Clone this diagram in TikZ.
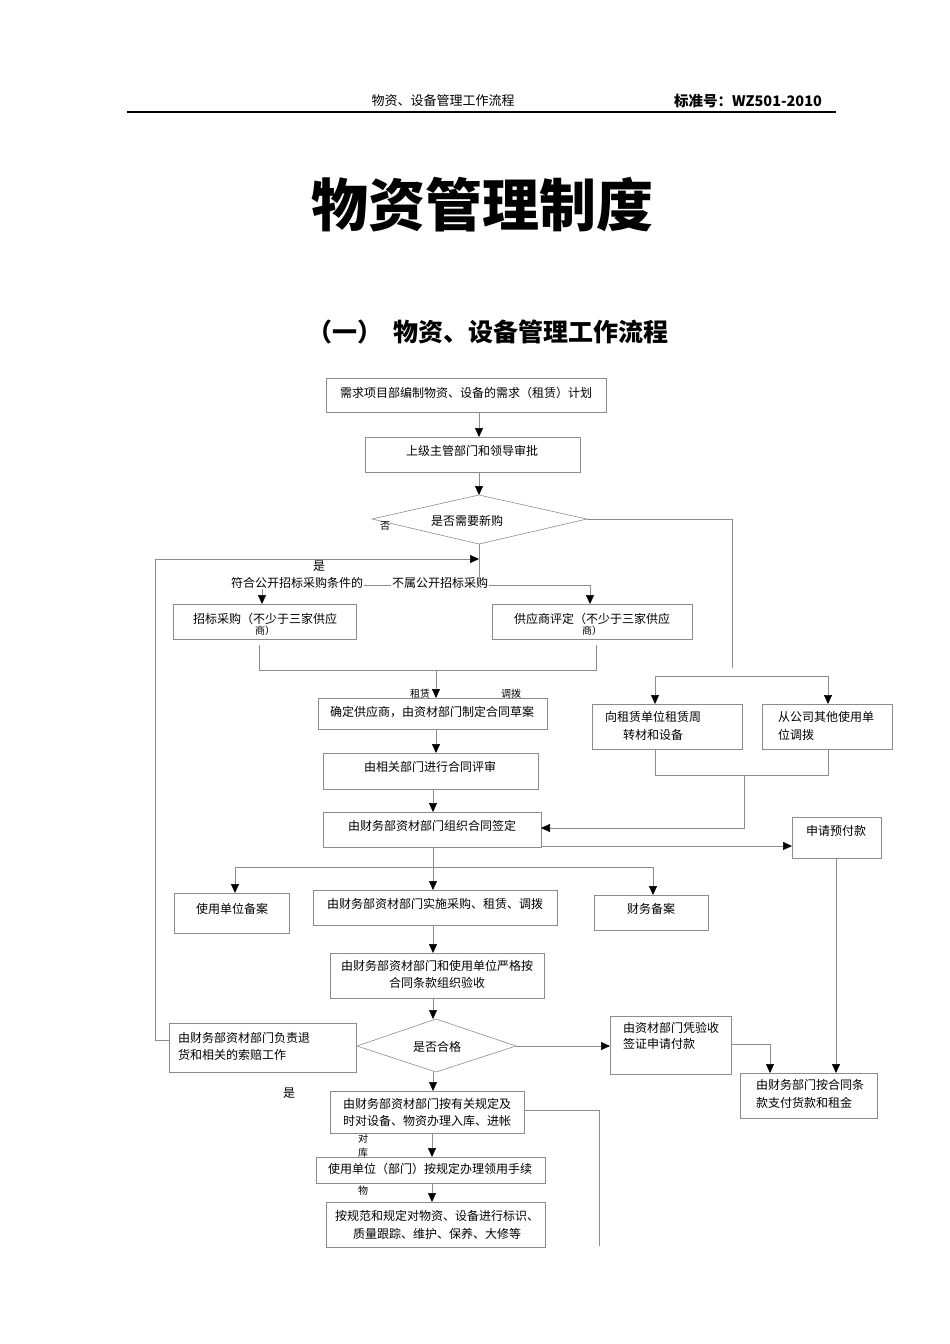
\documentclass[tikz,border=0pt]{standalone}
\usepackage{fontspec}
\setmainfont{Noto Sans CJK SC}
\usetikzlibrary{arrows.meta}
\begin{document}
\begin{tikzpicture}[x=1pt,y=-1pt,
  bx/.style={draw=black!45,line width=0.6pt,fill=none},
  ln/.style={draw=black!45,line width=0.6pt},
  ar/.style={draw=black!45,line width=0.6pt,-{Triangle[black,length=9pt,width=8pt]}},
  tx/.style={font=\fontsize{12}{15}\selectfont,inner sep=0pt,align=center},
  tl/.style={font=\fontsize{12}{17}\selectfont,inner sep=0pt,align=left}]
\useasboundingbox (0,0) rectangle (950,1344);
% header
\node[tx,font=\fontsize{13}{15}\selectfont] (h1) at (443,101) {物资、设备管理工作流程};
\node[tx,font=\bfseries\fontsize{14.5}{15}\selectfont] (h2) at (748,101) {标准号：WZ501-2010};
\draw[line width=1.5pt] (127,112) -- (836,112);
\node[tx,font=\bfseries\fontsize{57}{60}\selectfont] (t) at (482,205) {物资管理制度};
\node[tx,font=\bfseries\fontsize{25}{28}\selectfont] (st) at (488,332) {（一）\ \ 物资、设备管理工作流程};
% boxes
\draw[bx] (326,378) rectangle (606,412); \node[tx] (b1) at (466,393) {需求项目部编制物资、设备的需求（租赁）计划};
\coordinate (b1b) at (479,412);
\draw[bx] (365,437) rectangle (580,472); \node[tx] (b2) at (472,451) {上级主管部门和领导审批};
\coordinate (b2t) at (479,437); \coordinate (b2b) at (479,472);
\draw[bx] (372,519) -- (479,495) -- (587,519) -- (479,544) -- cycle;
\node[tx] (d1) at (467,521) {是否需要新购};
\coordinate (d1t) at (479,495); \coordinate (d1b) at (479,544); \coordinate (d1r) at (587,519);
\node[tx,font=\fontsize{10}{12}\selectfont] (no) at (385,526) {否};
\draw[ar] (b1b) -- (b2t);
\draw[ar] (b2b) -- (d1t);
% split
\coordinate (j1) at (479,585);
\draw[ln] (d1b) -- (j1);
\draw[ar] (262,585) -- (262,604);
\draw[ar] (590,585) -- (590,604);
\draw[ln] (262,585) -- (590,585);
\node[tx] (yes1) at (319,566) {是};
\node[tx,fill=white,inner xsep=1pt] (l1) at (297,583) {符合公开招标采购条件的};
\node[tx,fill=white,inner xsep=1pt] (l2) at (440,583) {不属公开招标采购};
\draw[bx] (173,604) rectangle (356,639);
\node[tx,font=\fontsize{12}{13}\selectfont] (b3) at (265,624) {招标采购（不少于三家供应\\[-2pt]{\fontsize{10}{10}\selectfont 商）}};
\draw[bx] (492,604) rectangle (692,639);
\node[tx,font=\fontsize{12}{13}\selectfont] (b4) at (592,624) {供应商评定（不少于三家供应\\[-2pt]{\fontsize{10}{10}\selectfont 商）}};
\draw[ln] (259,645) -- (259,670) -- (596,670) -- (596,645);
\coordinate (j2) at (436,670);
\draw[ar] (j2) -- (436,698);
\node[tx,font=\fontsize{10}{12}\selectfont] (zl) at (420,694) {租赁};
\node[tx,font=\fontsize{10}{12}\selectfont] (db) at (511,694) {调拨};
% right branch
\draw[ln] (d1r) -- (732,519) -- (732,668);
\draw[ln] (655,676) -- (828,676);
\draw[ar] (655,676) -- (655,704);
\draw[ar] (828,676) -- (828,704);
\draw[bx] (592,704) rectangle (742,749); \node[tx,font=\fontsize{12}{18}\selectfont] (b8) at (653,726) {向租赁单位租赁周\\转材和设备};
\draw[bx] (762,704) rectangle (892,749); \node[tl,font=\fontsize{12}{18}\selectfont] (b9) at (826,726) {从公司其他使用单\\位调拨};
\draw[ln] (655,749) -- (655,775) -- (828,775) -- (828,749);
% middle
\draw[bx] (318,698) rectangle (547,729); \node[tx] (b5) at (432,712) {确定供应商，由资材部门制定合同草案};
\draw[ar] (436,729) -- (436,753);
\draw[bx] (323,753) rectangle (538,789); \node[tx] (b6) at (430,767) {由相关部门进行合同评审};
\draw[ar] (433,789) -- (433,812);
\draw[bx] (323,812) rectangle (541,847); \node[tx] (b7) at (432,826) {由财务部资材部门组织合同签定};
\draw[ar] (744,775) -- (744,828) -- (541,828);
\draw[bx] (792,817) rectangle (881,858); \node[tx] (b10) at (836,831) {申请预付款};
\draw[ar] (541,846) -- (792,846);
\draw[ln] (433,847) -- (433,867);
\draw[ln] (235,867) -- (653,867);
\draw[ar] (235,867) -- (235,893);
\draw[ar] (433,867) -- (433,890);
\draw[ar] (653,867) -- (653,895);
\draw[bx] (174,893) rectangle (289,933); \node[tx] (b11) at (232,909) {使用单位备案};
\draw[bx] (313,890) rectangle (557,925); \node[tx] (b12) at (435,904) {由财务部资材部门实施采购、租赁、调拨};
\draw[bx] (594,895) rectangle (708,930); \node[tx] (b13) at (651,909) {财务备案};
\draw[ar] (433,925) -- (433,953);
\draw[bx] (330,953) rectangle (544,998); \node[tx,font=\fontsize{12}{17}\selectfont] (b14) at (437,974) {由财务部资材部门和使用单位严格按\\合同条款组织验收};
\draw[ar] (433,998) -- (433,1019);
\draw[bx] (357,1046) -- (436,1019) -- (516,1046) -- (436,1072) -- cycle;
\node[tx] (d2) at (437,1047) {是否合格};
\draw[bx] (169,1023) rectangle (356,1072); \node[tl,font=\fontsize{12}{17}\selectfont] (b15) at (244,1046) {由财务部资材部门负责退\\货和相关的索赔工作};
\draw[ar] (169,1040) -- (155,1040) -- (155,559) -- (479,559);
\draw[ar] (516,1046) -- (610,1046);
\draw[bx] (610,1016) rectangle (731,1074); \node[tl,font=\fontsize{12}{16}\selectfont] (b16) at (671,1036) {由资材部门凭验收\\签证申请付款};
\draw[ar] (731,1044) -- (770,1044) -- (770,1073);
\draw[ar] (836,858) -- (836,1073);
\draw[bx] (740,1073) rectangle (877,1118); \node[tl,font=\fontsize{12}{18}\selectfont] (b17) at (810,1094) {由财务部门按合同条\\款支付货款和租金};
\node[tx] (yes2) at (289,1093) {是};
\draw[ar] (433,1072) -- (433,1091);
\draw[bx] (330,1091) rectangle (524,1133); \node[tx,font=\fontsize{12}{17}\selectfont] (b18) at (427,1112) {由财务部资材部门按有关规定及\\时对设备、物资办理入库、进帐};
\draw[ln] (524,1110) -- (599,1110) -- (599,1246);
\node[tx,font=\fontsize{10}{12}\selectfont] (s1) at (363,1139) {对};
\node[tx,font=\fontsize{10}{12}\selectfont] (s2) at (363,1153) {库};
\draw[ar] (432,1133) -- (432,1157);
\draw[bx,fill=white] (316,1157) rectangle (545,1183); \node[tx] (b19) at (430,1169) {使用单位（部门）按规定办理领用手续};
\node[tx,font=\fontsize{10}{12}\selectfont] (s3) at (363,1191) {物};
\draw[ar] (432,1183) -- (432,1202);
\draw[bx,fill=white] (326,1202) rectangle (545,1247); \node[tx,font=\fontsize{12}{18}\selectfont] (b20) at (437,1225) {按规范和规定对物资、设备进行标识、\\质量跟踪、维护、保养、大修等};
\end{tikzpicture}
\end{document}
